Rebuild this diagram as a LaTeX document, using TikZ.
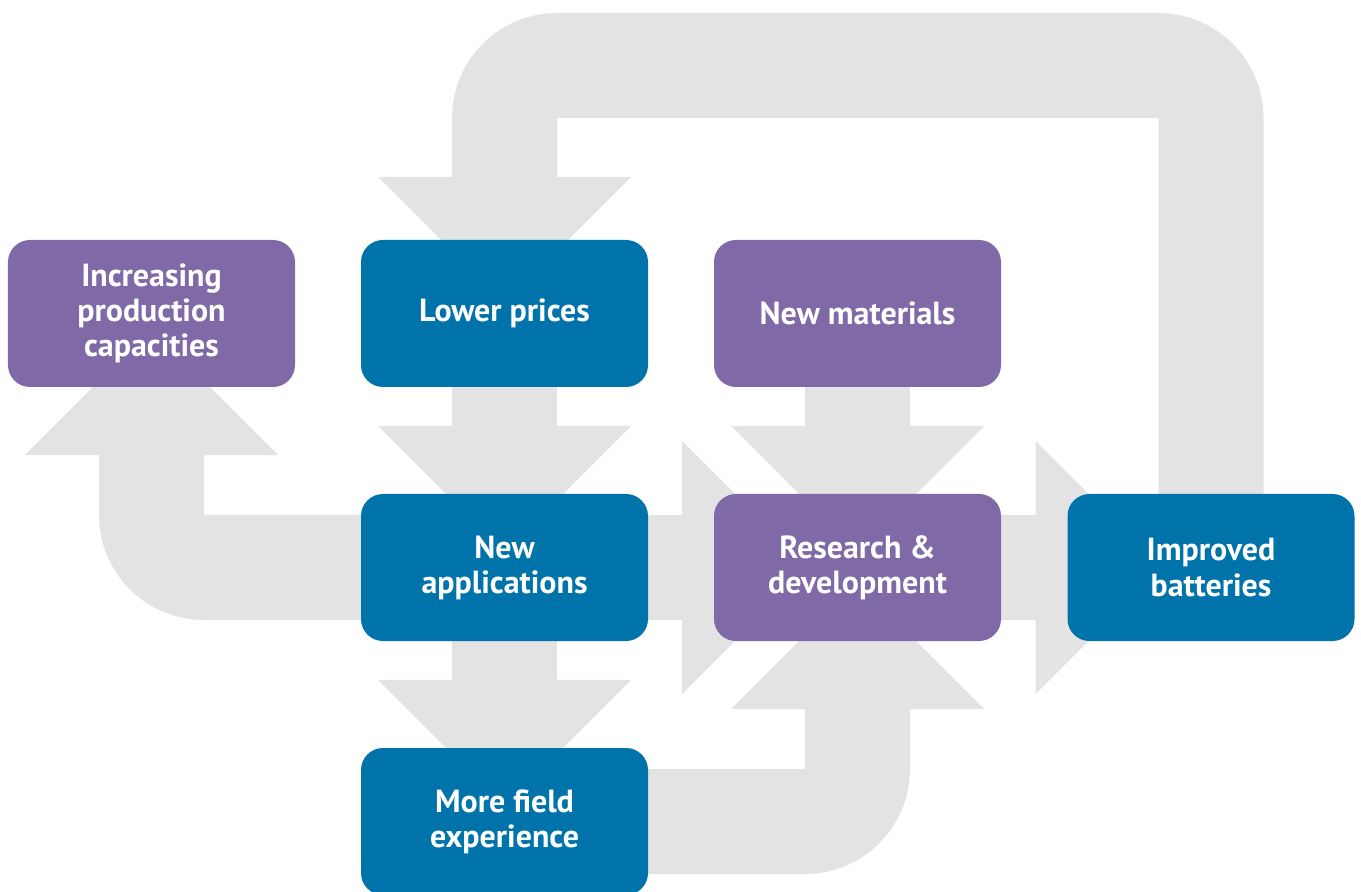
\documentclass[tikz,border=0pt]{standalone}
\usepackage{fontspec}
\setmainfont{PT Sans}
\usetikzlibrary{arrows.meta,backgrounds}

\definecolor{boxblue}{RGB}{0,115,170}
\definecolor{boxpurple}{RGB}{127,106,167}
\definecolor{flowgray}{RGB}{227,227,227}

\tikzset{
  box/.style={rounded corners=4.4mm, minimum width=57.4mm, minimum height=29.4mm,
    inner sep=0pt, align=center, text=white, font=\fontsize{18.2}{20}\selectfont\bfseries},
  bluebox/.style={box, fill=boxblue},
  purplebox/.style={box, fill=boxpurple},
  flow/.style={draw=flowgray, line width=21mm, rounded corners=10.5mm, shorten >=#1,
    -{Triangle[width=50.6mm,length=25.3mm,line width=0pt]}},
}

\begin{document}
\begin{tikzpicture}[x=0.2mm, y=-0.2mm]
  \useasboundingbox (0,0) rectangle (1361,892);

  % boxes
  \node[purplebox] (ipc) at (151.5,313.5) {Increasing\\production\\capacities};
  \node[bluebox]   (lp)  at (504.5,313.5) {Lower prices};
  \node[purplebox] (nm)  at (857.5,313.5) {New materials};
  \node[bluebox]   (na)  at (504.5,567.5) {New\\applications};
  \node[purplebox] (rd)  at (857.5,567.5) {Research \&\\development};
  \node[bluebox]   (ib)  at (1211,567.5)  {Improved\\batteries};
  \node[bluebox]   (mfe) at (504.5,821.5) {More field\\experience};

  \coordinate (loop) at (857,65.5);

  % gray flow arrows behind the boxes
  \begin{pgfonlayer}{background}
    \draw[flow=2mm] (ib.center) -- (ib.center |- loop) -- (lp.center |- loop) -- (lp.center);
    \draw[flow=3mm] (lp.center) -- (na.center);
    \draw[flow=3mm] (nm.center) -- (rd.center);
    \draw[flow=3mm] (na.center) -- (mfe.center);
    \draw[flow=3mm] (na.center) -| (ipc.center);
    \draw[flow=3mm] (mfe.center) -| (rd.center);
    \draw[flow=9.8mm] (na.center) -- (rd.center);
    \draw[flow=9.8mm] (rd.center) -- (ib.center);
  \end{pgfonlayer}
\end{tikzpicture}
\end{document}
